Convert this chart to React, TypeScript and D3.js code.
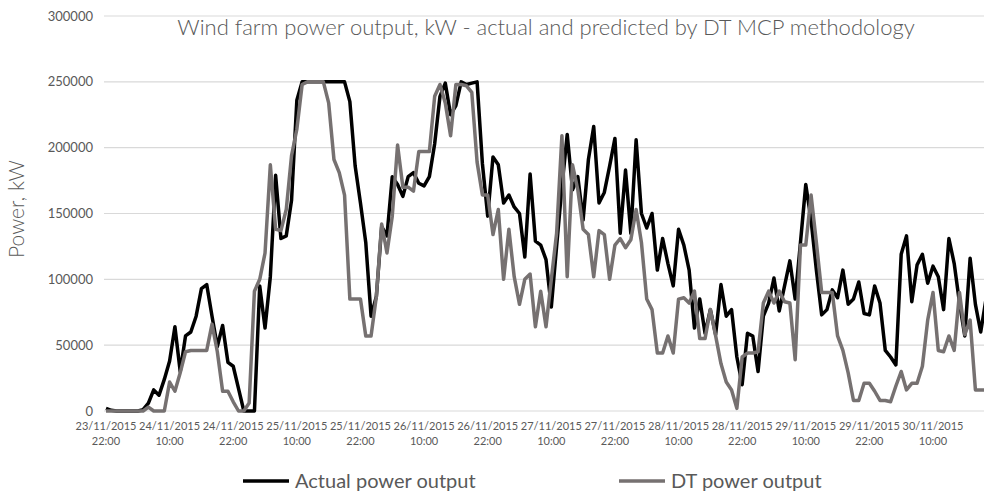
import React from "react";
import * as d3 from "d3";

// hourly values, starting 23/11/2015 22:00
const actualOutput = [
  2000, 500, 0, 0, 0, 0, 0, 1000, 6000, 16000, 12000, 24000, 38000, 64000, 30000, 57000,
  60000, 72000, 93000, 96000, 72000, 49000, 65000, 37000, 34000, 17000, 0, 0, 0, 95000,
  63000, 102000, 179000, 131000, 133000, 160000, 236000, 250000, 250000, 250000, 250000,
  250000, 250000, 250000, 250000, 250000, 235000, 186000, 158000, 128000, 72000, 87000,
  140000, 133000, 178000, 172000, 163000, 178000, 181000, 173000, 171000, 178000, 203000,
  239000, 249000, 225000, 232000, 250000, 248000, 249000, 250000, 188000, 148000, 193000,
  187000, 158000, 164000, 155000, 150000, 117000, 180000, 129000, 126000, 115000, 79000,
  125000, 170000, 210000, 168000, 178000, 145000, 191000, 216000, 158000, 166000, 186000,
  207000, 135000, 183000, 135000, 206000, 150000, 139000, 150000, 107000, 131000, 112000,
  95000, 138000, 126000, 107000, 63000, 85000, 59000, 77000, 58000, 96000, 72000, 77000,
  41000, 20000, 59000, 57000, 30000, 72000, 82000, 101000, 76000, 95000, 114000, 85000,
  128000, 172000, 145000, 107000, 73000, 77000, 92000, 86000, 107000, 81000, 85000, 98000,
  74000, 73000, 95000, 82000, 46000, 41000, 35000, 119000, 133000, 83000, 111000, 119000,
  97000, 110000, 102000, 77000, 131000, 112000, 82000, 57000, 116000, 81000, 60000, 85000,
];

const dtOutput = [
  0, 0, 0, 0, 0, 0, 0, 0, 3000, 0, 0, 0, 22000, 15000, 29000, 45000, 46000, 46000, 46000,
  46000, 66000, 45000, 15000, 15000, 7000, 0, 0, 6000, 91000, 100000, 120000, 187000,
  138000, 137000, 153000, 194000, 214000, 248000, 250000, 250000, 250000, 250000, 234000,
  191000, 181000, 164000, 85000, 85000, 85000, 57000, 57000, 87000, 142000, 120000, 148000,
  202000, 170000, 170000, 167000, 197000, 197000, 197000, 239000, 248000, 234000, 209000,
  248000, 248000, 247000, 242000, 189000, 164000, 164000, 134000, 153000, 100000, 138000,
  102000, 81000, 100000, 104000, 64000, 91000, 64000, 100000, 135000, 209000, 102000,
  187000, 168000, 138000, 134000, 102000, 137000, 134000, 100000, 126000, 131000, 124000,
  130000, 153000, 128000, 85000, 77000, 44000, 44000, 57000, 44000, 85000, 86000, 82000,
  91000, 55000, 55000, 77000, 57000, 36000, 22000, 16000, 2000, 41000, 44000, 44000, 45000,
  82000, 91000, 82000, 91000, 83000, 82000, 39000, 126000, 126000, 164000, 128000, 90000,
  90000, 90000, 57000, 46000, 29000, 8000, 8000, 21000, 21000, 15000, 8000, 8000, 7000,
  19000, 30000, 16000, 21000, 21000, 34000, 69000, 90000, 46000, 45000, 57000, 46000,
  90000, 58000, 69000, 16000, 16000, 16000,
];

// one label every 12 hours
const tickDates = [
  "23/11/2015", "24/11/2015", "24/11/2015", "25/11/2015", "25/11/2015", "26/11/2015",
  "26/11/2015", "27/11/2015", "27/11/2015", "28/11/2015", "28/11/2015", "29/11/2015",
  "29/11/2015", "30/11/2015",
];
const tickTimes = ["22:00", "10:00"];
const yTicks = [0, 50000, 100000, 150000, 200000, 250000, 300000];

const W = 984;
const H = 493;
const FONT = "Lato, 'Noto Sans', sans-serif";
const TEXT = "#595959";

export default function App() {
  const x = d3.scaleLinear().domain([0, 156]).range([106, 933]);
  const y = d3.scaleLinear().domain([0, 300000]).range([411, 16]);

  const line = d3
    .line<number>()
    .x((_, i) => x(i))
    .y((d) => y(d));

  const series = [
    { name: "Actual power output", values: actualOutput, color: "#000000", lx: 243 },
    { name: "DT power output", values: dtOutput, color: "#767171", lx: 619 },
  ];

  return (
    <svg width={W} height={H} style={{ display: "block", position: "absolute", left: 0, top: 0 }}>
      <rect width={W} height={H} fill="#fff" />
      {yTicks.map((t) => (
        <g key={t}>
          <line x1={104} x2={W} y1={y(t)} y2={y(t)} stroke="#d9d9d9" strokeWidth={1.2} />
          <text x={93} y={y(t)} dy="0.35em" textAnchor="end" fontFamily={FONT} fontSize={13} fill={TEXT}>
            {t}
          </text>
        </g>
      ))}
      <text x={546} y={35} textAnchor="middle" fontFamily={FONT} fontWeight={300} fontSize={22} fill={TEXT}>
        Wind farm power output, kW - actual and predicted by DT MCP methodology
      </text>
      <text
        transform="translate(24,209) rotate(-90)"
        textAnchor="middle"
        fontFamily={FONT}
        fontWeight={300}
        fontSize={21}
        fill={TEXT}
      >
        Power, kW
      </text>
      {tickDates.map((d, k) => (
        <text key={k} x={x(k * 12)} textAnchor="middle" fontFamily={FONT} fontSize={11} fill={TEXT}>
          <tspan x={x(k * 12)} y={430}>{d}</tspan>
          <tspan x={x(k * 12)} y={445}>{tickTimes[k % 2]}</tspan>
        </text>
      ))}
      {series.map((s) => (
        <path
          key={s.name}
          d={line(s.values) ?? ""}
          fill="none"
          stroke={s.color}
          strokeWidth={3.5}
          strokeLinejoin="round"
        />
      ))}
      {series.map((s) => (
        <g key={s.name + "-legend"}>
          <line x1={s.lx} x2={s.lx + 46} y1={481} y2={481} stroke={s.color} strokeWidth={3.5} />
          <text x={s.lx + 52} y={481} dy="0.35em" fontFamily={FONT} fontSize={20} fill={TEXT}>
            {s.name}
          </text>
        </g>
      ))}
    </svg>
  );
}
